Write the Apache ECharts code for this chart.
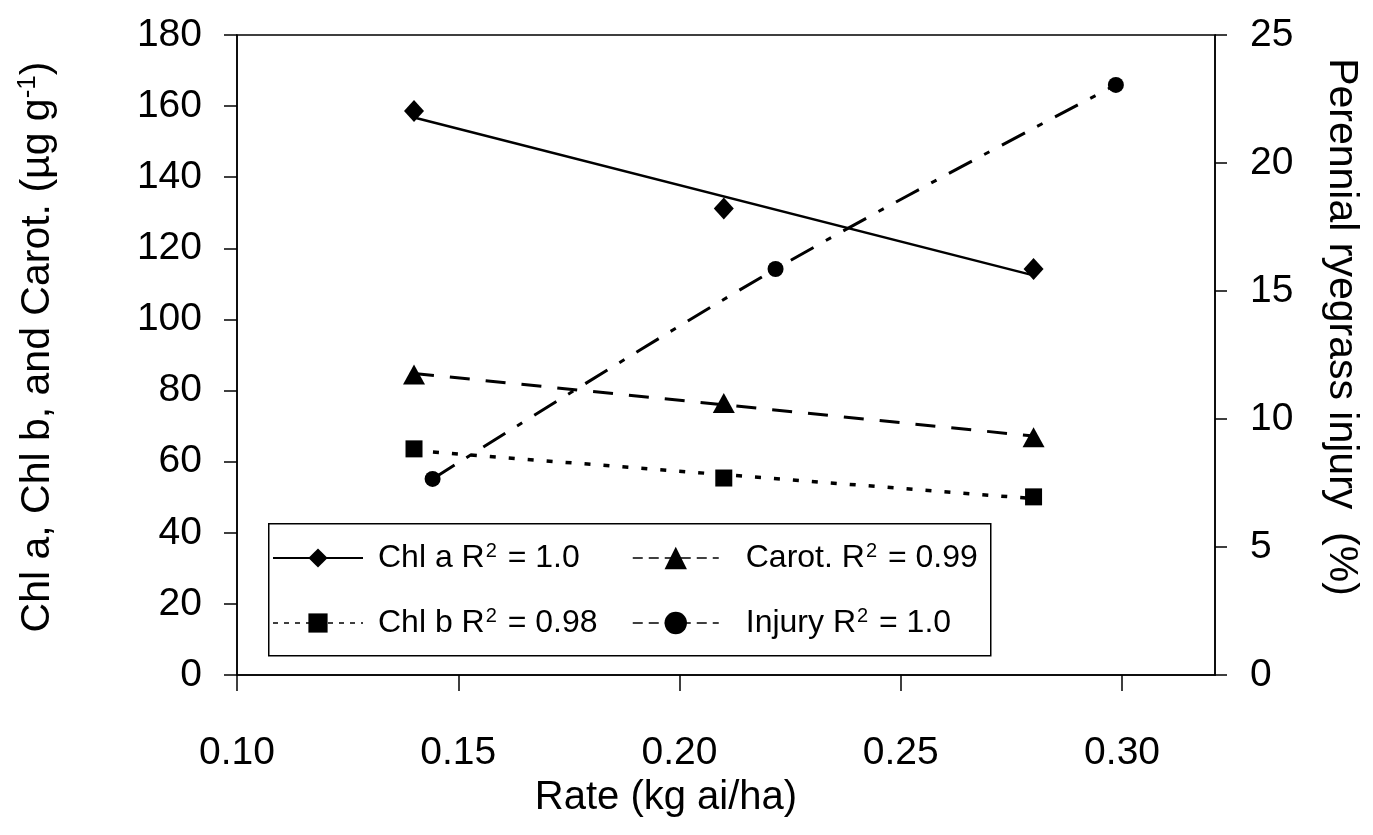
<!DOCTYPE html>
<html>
<head>
<meta charset="utf-8">
<script src="https://cdn.jsdelivr.net/npm/echarts@6/dist/echarts.min.js"></script>
<style>
html,body{margin:0;padding:0;background:#fff;}
#chart{width:1373px;height:835px;}
</style>
</head>
<body>
<div id="chart"></div>
<script>
// ---- data ----
var xTicks = [0.10, 0.15, 0.20, 0.25, 0.30];
var rates = [0.14, 0.21, 0.28];
var chlA = [158.6, 131.2, 114.2];
var chlB = [63.6, 55.4, 50.1];
var carot = [84.5, 76.5, 66.9];
var trendRates = [0.14, 0.28];
var chlATrend = [156.8, 112.4];
var chlBTrend = [63.1, 49.6];
var carotTrend = [84.8, 67.2];
var injuryRates = [0.1442, 0.2217, 0.2986];
var injury = [7.66, 15.86, 23.05];

function pairs(xs, ys) { return xs.map(function (x, i) { return [x, ys[i]]; }); }

var SANS = '"Liberation Sans", Arial, sans-serif';

var chart = echarts.init(document.getElementById('chart'), null, {renderer: 'canvas'});

var supStyle = {fontSize: 20, fontFamily: SANS, color: '#000', verticalAlign: 'top', lineHeight: 20, padding: [0, 2, 0, 1]};

var option = {
  backgroundColor: '#fff',
  animation: false,
  grid: {left: 237, right: 158, top: 35, bottom: 160, show: true, borderColor: '#000', borderWidth: 1.5, backgroundColor: 'transparent'},
  xAxis: {
    type: 'value', min: 0.10, max: 0.321, interval: 0.05,
    name: 'Rate (kg ai/ha)', nameLocation: 'middle', nameGap: 98,
    nameTextStyle: {fontFamily: SANS, fontSize: 40, color: '#000', padding: [0, 120, 0, 0]},
    axisLine: {show: true, onZero: false, lineStyle: {color: '#000', width: 1.5}},
    axisTick: {show: true, length: 16, customValues: xTicks, lineStyle: {color: '#000', width: 1.5}},
    axisLabel: {customValues: xTicks, margin: 59, fontFamily: SANS, fontSize: 39, color: '#000',
      formatter: function (v) { return v.toFixed(2); }},
    splitLine: {show: false}
  },
  yAxis: [{
    type: 'value', min: 0, max: 180, interval: 20, position: 'left',
    name: 'Chl a, Chl b, and Carot. (µg g{sup|-1})', nameLocation: 'middle', nameGap: 176, nameRotate: 90,
    nameTextStyle: {fontFamily: SANS, fontSize: 41, color: '#000', lineHeight: 46, padding: [0, 0, 0, 16],
      rich: {sup: {fontSize: 26, fontFamily: SANS, color: '#000', verticalAlign: 'top', lineHeight: 26}}},
    axisLine: {show: true, lineStyle: {color: '#000', width: 1.5}},
    axisTick: {show: true, length: 13, lineStyle: {color: '#000', width: 1.5}},
    axisLabel: {margin: 35, fontFamily: SANS, fontSize: 39, color: '#000'},
    splitLine: {show: false}
  }, {
    type: 'value', min: 0, max: 25, interval: 5, position: 'right',
    name: 'Perennial ryegrass injury  (%)', nameLocation: 'middle', nameGap: 106, nameRotate: -90,
    nameTextStyle: {fontFamily: SANS, fontSize: 41, color: '#000', padding: [0, 56, 0, 0]},
    axisLine: {show: true, lineStyle: {color: '#000', width: 1.5}},
    axisTick: {show: true, length: 12, lineStyle: {color: '#000', width: 1.5}},
    axisLabel: {margin: 35, fontFamily: SANS, fontSize: 39, color: '#000'},
    splitLine: {show: false}
  }],
  legend: [{
    left: 267, top: 536, orient: 'vertical', itemWidth: 90, itemHeight: 24, itemGap: 31,
    data: [
      {name: 'Chl a'},
      {name: 'Chl b', lineStyle: {type: [5, 6], width: 1.5}}
    ],
    textStyle: {fontFamily: SANS, fontSize: 32, color: '#000', lineHeight: 34, padding: [0, 0, 0, 10], rich: {sup: supStyle}},
    formatter: function (n) { return n === 'Chl a' ? 'Chl a R{sup|2} = 1.0' : 'Chl b R{sup|2} = 0.98'; }
  }, {
    left: 627, top: 536, orient: 'vertical', itemWidth: 86, itemHeight: 28, itemGap: 31,
    data: [
      {name: 'Carot.', lineStyle: {type: [10, 6], width: 1.5}},
      {name: 'Injury', lineStyle: {type: [10, 6], width: 1.5}}
    ],
    textStyle: {fontFamily: SANS, fontSize: 32, color: '#000', lineHeight: 34, padding: [0, 0, 0, 22], rich: {sup: supStyle}},
    formatter: function (n) { return n === 'Carot.' ? 'Carot. R{sup|2} = 0.99' : 'Injury R{sup|2} = 1.0'; }
  }],
  graphic: [{
    type: 'rect', left: 268, top: 523, z: 0,
    shape: {width: 722, height: 132},
    style: {fill: '#fff', stroke: '#000', lineWidth: 1.5}
  }],
  series: [
    {name: 'Chl a', type: 'line', data: pairs(trendRates, chlATrend), symbol: 'diamond', showSymbol: false,
      lineStyle: {color: '#000', width: 2.5, type: 'solid'}, itemStyle: {color: '#000'}, z: 2},
    {name: 'Chl a pts', type: 'scatter', data: pairs(rates, chlA), symbol: 'diamond', symbolSize: [20, 22],
      itemStyle: {color: '#000', opacity: 1}, z: 3},
    {name: 'Carot.', type: 'line', data: pairs(trendRates, carotTrend), symbol: 'triangle', showSymbol: false,
      lineStyle: {color: '#000', width: 3, type: [20, 16]}, itemStyle: {color: '#000'}, z: 2},
    {name: 'Carot. pts', type: 'scatter', data: pairs(rates, carot), symbol: 'triangle', symbolSize: [22, 20],
      itemStyle: {color: '#000', opacity: 1}, z: 3},
    {name: 'Chl b', type: 'line', data: pairs(trendRates, chlBTrend), symbol: 'rect', showSymbol: false,
      lineStyle: {color: '#000', width: 3.5, type: [6, 13]}, itemStyle: {color: '#000'}, z: 2},
    {name: 'Chl b pts', type: 'scatter', data: pairs(rates, chlB), symbol: 'rect', symbolSize: [17, 17],
      itemStyle: {color: '#000', opacity: 1}, z: 3},
    {name: 'Injury', type: 'line', yAxisIndex: 1, data: pairs(injuryRates, injury), smooth: 0.35,
      symbol: 'circle', symbolSize: 16, showSymbol: true,
      lineStyle: {color: '#000', width: 3, type: [26, 14, 6, 14]}, itemStyle: {color: '#000', opacity: 1}, z: 2}
  ]
};
chart.setOption(option);
</script>
</body>
</html>
